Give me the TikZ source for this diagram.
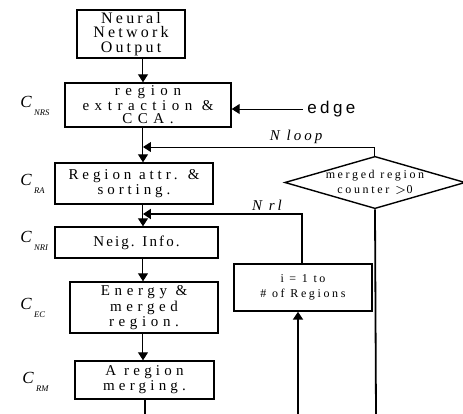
\documentclass[tikz,border=0pt]{standalone}
\usepackage{fontspec}
\setmainfont{Liberation Serif}
\newfontfamily\spacedsans[LetterSpace=20]{Liberation Sans}
\usetikzlibrary{arrows.meta,shapes.geometric}
\newcommand{\trk}[1]{\addfontfeatures{LetterSpace=#1}}
\newcommand{\cost}[1]{{\fontsize{8.5}{8.5}\selectfont\itshape C}\kern1.2pt\raisebox{-0.9ex}{\fontsize{4.3}{4.3}\selectfont\itshape #1}}

\begin{document}
\begin{tikzpicture}[x=0.5pt,y=-0.5pt,>={Triangle[length=4pt,width=5pt]},
  blk/.style={draw,line width=0.7pt,align=center,inner sep=1pt},
  txt/.style={font=\fontsize{7.5}{6.5}\selectfont\trk{#1}},
  small/.style={font=\fontsize{6}{7.2}\selectfont\trk{22}},
  lnk/.style={line width=0.5pt},
  thk/.style={line width=0.9pt},
  lbl/.style={anchor=west,inner sep=0pt}]
\useasboundingbox (0,0) rectangle (463,414);
% processing chain
\node[blk,minimum width=54pt,minimum height=23.5pt,font=\fontsize{8}{7.3}\selectfont\trk{20}] (nn) at (131,34) {Neural\\Network\\Output};
\node[blk,txt=37,minimum width=83pt,minimum height=22pt] (rext) at (148,105) {region\\extraction \&\\CCA.};
\node[blk,txt=26,minimum width=79pt,minimum height=20.5pt] (rattr) at (134,183.5) {Region attr. \&\\sorting.};
\node[blk,txt=14,minimum width=81.5pt,minimum height=15.5pt] (neig) at (136.5,242.5) {Neig. Info.};
\node[blk,txt=31,minimum width=74pt,minimum height=25.5pt] (energy) at (144,307.5) {Energy \&\\merged\\region.};
\node[blk,txt=28,minimum width=69.5pt,minimum height=19pt] (merge) at (144.5,380) {A region\\merging.};
% loop control
\node[blk,small,minimum width=69pt,minimum height=23.5pt] (loopbox) at (303,287.5) {i = 1 to\\\# of Regions};
\node[draw,line width=0.7pt,diamond,aspect=3.45,inner sep=0pt,minimum width=88pt,minimum height=25.5pt,
  align=center,small] (dec) at (375,182.5) {merged region\\counter $>$0};
\node[inner sep=2pt,anchor=west,font=\fontsize{8.5}{8.5}\selectfont\spacedsans] (edge) at (303,109) {edge};
% cost labels
\node[lbl] (cnrs) at (20,106) {\cost{NRS}};
\node[lbl] (cra) at (20,184) {\cost{RA}};
\node[lbl] (cnri) at (20,241) {\cost{NRI}};
\node[lbl] (cec) at (20,308) {\cost{EC}};
\node[lbl] (crm) at (22,382) {\cost{RM}};
% trunk
\coordinate (ax) at (143,0);
\coordinate (nloop) at (143,147);
\coordinate (nrl) at (143,214);
\coordinate (endA) at (145,414);
\coordinate (endB) at (298,414);
\coordinate (endC) at (376,414);
\draw[lnk,->] (nn.south -| ax) -- (rext.north -| ax);
\draw[lnk,->] (edge.west) -- (rext.east |- edge.west);
\draw[lnk,->] (rext.south -| ax) -- (rattr.north -| ax);
\draw[lnk,->] (rattr.south -| ax) -- (neig.north -| ax);
\draw[lnk,->] (neig.south -| ax) -- (energy.north -| ax);
\draw[lnk,->] (energy.south -| ax) -- (merge.north -| ax);
\draw[thk] (merge.south -| endA) -- (endA);
% feedback loops
\draw[lnk,->] (dec.north) -- (dec.north |- nloop) -- node[above,pos=0.34,inner sep=1.5pt,font=\fontsize{7.5}{7.5}\selectfont\itshape\trk{20}] {N loop} (nloop);
\draw[thk,->] (loopbox.north -| 302,0) -- (302,214) -- node[above,pos=0.22,inner sep=1.5pt,font=\fontsize{7.5}{7.5}\selectfont\itshape\trk{20}] {N rl} (nrl);
\draw[thk,->] (endB) -- (loopbox.south -| endB);
\draw[thk] (dec.south) -- (endC);
\end{tikzpicture}
\end{document}
